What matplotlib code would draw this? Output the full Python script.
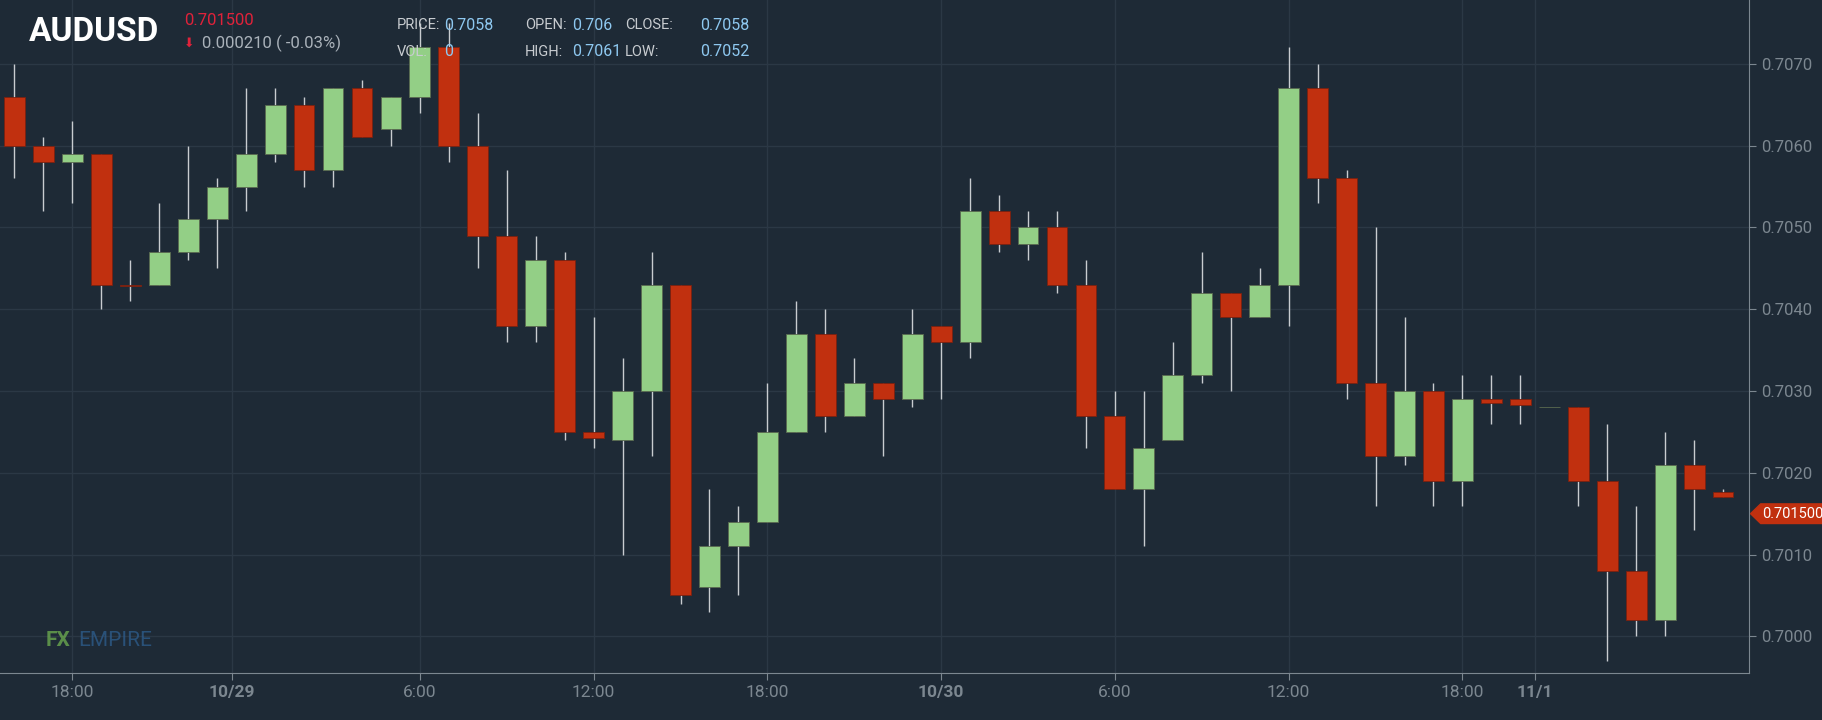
import numpy as np
import matplotlib.pyplot as plt
from matplotlib.patches import Polygon

plt.rcParams['font.family'] = ['Roboto', 'DejaVu Sans']

# hourly candles, 10/28 16:00 .. 11/1
opens = [0.7066, 0.7060, 0.7058, 0.7059, 0.7043, 0.7043, 0.7047, 0.7051, 0.7055, 0.7059,
         0.7065, 0.7057, 0.7067, 0.7062, 0.7066, 0.7072, 0.7060, 0.7049, 0.7038, 0.7046,
         0.7025, 0.7024, 0.7030, 0.7043, 0.7006, 0.7011, 0.7014, 0.7025, 0.7037, 0.7027,
         0.7031, 0.7029, 0.7038, 0.7036, 0.7052, 0.7048, 0.7050, 0.7043, 0.7027, 0.7018,
         0.7024, 0.7032, 0.7042, 0.7039, 0.7043, 0.7067, 0.7056, 0.7031, 0.7022, 0.7030,
         0.7019, 0.7029, 0.7029, 0.7028, 0.7028, 0.7019, 0.7008, 0.7002, 0.7021, 0.70176]
closes = [0.7060, 0.7058, 0.7059, 0.7043, 0.70428, 0.7047, 0.7051, 0.7055, 0.7059, 0.7065,
          0.7057, 0.7067, 0.7061, 0.7066, 0.7072, 0.7060, 0.7049, 0.7038, 0.7046, 0.7025,
          0.70243, 0.7030, 0.7043, 0.7005, 0.7011, 0.7014, 0.7025, 0.7037, 0.7027, 0.7031,
          0.7029, 0.7037, 0.7036, 0.7052, 0.7048, 0.7050, 0.7043, 0.7027, 0.7018, 0.7023,
          0.7032, 0.7042, 0.7039, 0.7043, 0.7067, 0.7056, 0.7031, 0.7022, 0.7030, 0.7019,
          0.7029, 0.70285, 0.70283, 0.7028, 0.7019, 0.7008, 0.7002, 0.7021, 0.7018, 0.70170]
highs = [0.7070, 0.7061, 0.7063, 0.7059, 0.7046, 0.7053, 0.7060, 0.7056, 0.7067, 0.7067,
         0.7066, 0.7067, 0.7068, 0.7066, 0.7075, 0.7075, 0.7064, 0.7057, 0.7049, 0.7047,
         0.7039, 0.7034, 0.7047, 0.7043, 0.7018, 0.7016, 0.7031, 0.7041, 0.7040, 0.7034,
         0.7031, 0.7040, 0.7038, 0.7056, 0.7054, 0.7052, 0.7052, 0.7046, 0.7030, 0.7030,
         0.7036, 0.7047, 0.7042, 0.7045, 0.7072, 0.7070, 0.7057, 0.7050, 0.7039, 0.7031,
         0.7032, 0.7032, 0.7032, 0.7028, 0.7028, 0.7026, 0.7016, 0.7025, 0.7024, 0.7018]
lows = [0.7056, 0.7052, 0.7053, 0.7040, 0.7041, 0.7043, 0.7046, 0.7045, 0.7052, 0.7058,
        0.7055, 0.7055, 0.7061, 0.7060, 0.7064, 0.7058, 0.7045, 0.7036, 0.7036, 0.7024,
        0.7023, 0.7010, 0.7022, 0.7004, 0.7003, 0.7005, 0.7014, 0.7025, 0.7025, 0.7027,
        0.7022, 0.7028, 0.7029, 0.7034, 0.7047, 0.7046, 0.7042, 0.7023, 0.7018, 0.7011,
        0.7024, 0.7031, 0.7030, 0.7039, 0.7038, 0.7053, 0.7029, 0.7016, 0.7021, 0.7016,
        0.7016, 0.7026, 0.7026, 0.7028, 0.7016, 0.6997, 0.7000, 0.7000, 0.7013, 0.7017]

tick_pos = [2, 7.5, 14, 20, 26, 32, 38, 44, 50, 52.5]
tick_labels = ['18:00', '10/29', '6:00', '12:00', '18:00', '10/30', '6:00', '12:00', '18:00', '11/1']
bold_ticks = ['10/29', '10/30', '11/1']

bg = '#1e2a36'
red = '#c1300f'
green = '#93cf86'

fig = plt.figure(figsize=(18.22, 7.2), dpi=100, facecolor=bg)
ax = fig.add_axes([0.0, 0.065, 0.96, 0.935], facecolor=bg)

for i in range(len(opens)):
    o, c = opens[i], closes[i]
    col = green if c >= o else red
    ax.vlines(i, lows[i], highs[i], color='#c8ccd0', lw=1, zorder=2)
    h = max(abs(c - o), 0.000008)
    ax.bar(i, h, bottom=min(o, c), width=0.72, color=col,
           edgecolor='#5a6a50' if c >= o else '#7a2010', lw=0.6, zorder=3)

ax.set_xlim(-0.5, 59.9)
ax.set_ylim(0.69955, 0.70778)
ax.yaxis.tick_right()
yt = np.arange(0.7000, 0.70701, 0.0010)
ax.set_yticks(yt)
ax.set_yticklabels(['%.4f' % v for v in yt], color='#c8ccd0', fontsize=12)
ax.set_xticks(tick_pos)
ax.set_xticklabels(tick_labels, fontsize=12.5, color='#c8ccd0')
for t in ax.get_xticklabels():
    if t.get_text() in bold_ticks:
        t.set_fontweight('bold')
        t.set_color('white')
ax.grid(True, color='#2b3845', lw=1)
ax.tick_params(colors='#7c8790', length=5)
for s in ['top', 'left']:
    ax.spines[s].set_visible(False)
ax.spines['right'].set_color('#7c8790')
ax.spines['bottom'].set_color('#7c8790')

# price tag
last = 0.7015
tag = Polygon([[59.95, last], [60.3, last + 0.00012], [62.45, last + 0.00012],
               [62.45, last - 0.00012], [60.3, last - 0.00012]],
              closed=True, color=red, clip_on=False, zorder=5)
ax.add_patch(tag)
ax.text(61.4, last, '0.701500', color='white', fontsize=10.5, ha='center', va='center',
        clip_on=False, zorder=6)

# header
fig.text(0.016, 0.955, 'AUDUSD', color='white', fontsize=24, fontweight='bold', va='center')
fig.text(0.101, 0.972, '0.701500', color='#e0223a', fontsize=12, va='center')
fig.text(0.101, 0.940, '\u2b07', color='#e0223a', fontsize=9, va='center', family=['DejaVu Sans'])
fig.text(0.111, 0.940, '0.000210 ( -0.03%)', color='#aab2ba', fontsize=12, va='center')
hdr = [(0.218, 0.244, 0.965, 'PRICE:', '0.7058'), (0.288, 0.314, 0.965, 'OPEN:', '0.706'),
       (0.343, 0.384, 0.965, 'CLOSE:', '0.7058'), (0.218, 0.244, 0.928, 'VOL:', '0'),
       (0.288, 0.314, 0.928, 'HIGH:', '0.7061'), (0.343, 0.384, 0.928, 'LOW:', '0.7052')]
for x, xv, y, k, v in hdr:
    fig.text(x, y, k, color='#c8ccd0', fontsize=10.5, va='center')
    fig.text(xv, y, v, color='#8ec8f0', fontsize=11.5, va='center')

fig.text(0.025, 0.11, 'FX', color='#6aa84f', fontsize=15, fontweight='bold', va='center', alpha=0.8)
fig.text(0.043, 0.11, 'EMPIRE', color='#2d5b8a', fontsize=15, va='center', alpha=0.8)

fig.savefig('out.png', facecolor=bg)
